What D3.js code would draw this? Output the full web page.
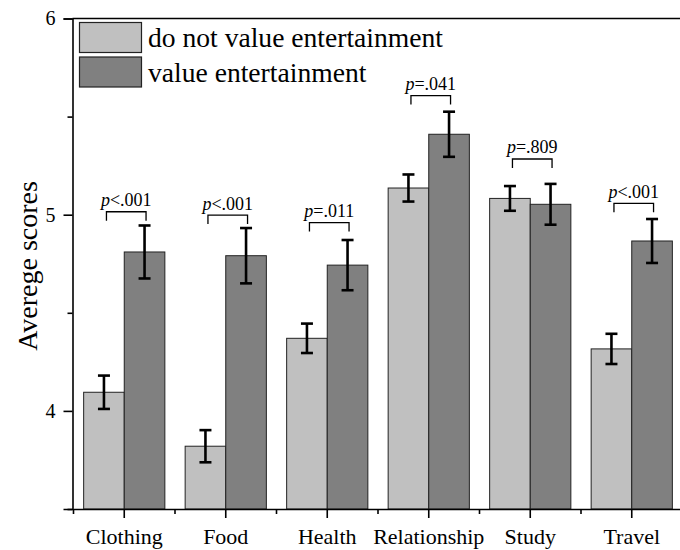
<!DOCTYPE html>
<html>
<head>
<meta charset="utf-8">
<script src="https://cdn.jsdelivr.net/npm/d3@7"></script>
<style>
  html, body { margin: 0; padding: 0; background: #fff; }
  svg { display: block; }
  text { font-family: "Liberation Serif", "Times New Roman", serif; fill: #000; }
</style>
</head>
<body>
<script>
const categories = ["Clothing", "Food", "Health", "Relationship", "Study", "Travel"];
const seriesNames = ["do not value entertainment", "value entertainment"];
const noValue   = [4.095, 3.82, 4.37, 5.136, 5.083, 4.316];
const noValueSE = [0.085, 0.082, 0.075, 0.069, 0.063, 0.077];
const valueEnt   = [4.81, 4.791, 4.743, 5.41, 5.053, 4.866];
const valueEntSE = [0.135, 0.141, 0.128, 0.115, 0.104, 0.112];
const pOps  = ["<", "<", "=", "=", "=", "<"];
const pVals = [".001", ".001", ".011", ".041", ".809", ".001"];
const bracketY = [5.015, 4.998, 4.96, 5.607, 5.284, 5.058];
const yMajorTicks = [4, 5, 6];
const yMinorTicks = [3.5, 4.5, 5.5];
const yTitle = "Averege scores";

const W = 680, H = 550;
const FONT = "Liberation Serif";
const colors = ["#c0c0c0", "#808080"];

const svg = d3.select("body").append("svg").attr("width", W).attr("height", H)
  .attr("font-family", FONT);

const x = d3.scaleBand().domain(categories).range([73.5, 682.5]).padding(0);
const inner = d3.scaleBand().domain([0, 1]).range([0, x.bandwidth() * 0.8]);
const groupOffset = x.bandwidth() * 0.1;
const y = d3.scaleLinear().domain([3.5, 6]).range([509, 18.5]);

const series = [
  categories.map((c, i) => ({ c, s: 0, v: noValue[i], se: noValueSE[i] })),
  categories.map((c, i) => ({ c, s: 1, v: valueEnt[i], se: valueEntSE[i] }))
];
const flat = series.flat();
const barX = d => x(d.c) + groupOffset + inner(d.s);
const barCX = d => barX(d) + inner.bandwidth() / 2;

// bars
svg.append("g").selectAll("rect").data(flat).join("rect")
  .attr("x", barX)
  .attr("y", d => y(d.v))
  .attr("width", inner.bandwidth())
  .attr("height", d => y(3.5) - y(d.v))
  .attr("fill", d => colors[d.s])
  .attr("stroke", "#222")
  .attr("stroke-width", 1);

// error bars
const eb = svg.append("g").attr("stroke", "#000").attr("stroke-width", 2.6);
const capW = 12;
eb.selectAll("line.v").data(flat).join("line").attr("class", "v")
  .attr("x1", barCX).attr("x2", barCX)
  .attr("y1", d => y(d.v + d.se)).attr("y2", d => y(d.v - d.se));
eb.selectAll("line.t").data(flat).join("line").attr("class", "t")
  .attr("x1", d => barCX(d) - capW / 2).attr("x2", d => barCX(d) + capW / 2)
  .attr("y1", d => y(d.v + d.se)).attr("y2", d => y(d.v + d.se));
eb.selectAll("line.b").data(flat).join("line").attr("class", "b")
  .attr("x1", d => barCX(d) - capW / 2).attr("x2", d => barCX(d) + capW / 2)
  .attr("y1", d => y(d.v - d.se)).attr("y2", d => y(d.v - d.se));

// significance brackets
const br = svg.append("g");
categories.forEach((c, i) => {
  const x1 = barCX(series[0][i]) + 2.5;
  const x2 = barCX(series[1][i]) + 1.5;
  const yb = y(bracketY[i]);
  br.append("path")
    .attr("d", `M${x1},${yb + 9}V${yb}H${x2}V${yb + 9}`)
    .attr("fill", "none").attr("stroke", "#000").attr("stroke-width", 1.3);
  const t = br.append("text")
    .attr("x", (x1 + x2) / 2).attr("y", yb - 5.5)
    .attr("text-anchor", "middle").attr("font-size", 18).attr("font-family", FONT);
  t.append("tspan").attr("font-style", "italic").text("p");
  t.append("tspan").text(pOps[i] + pVals[i]);
});

// y axis major
const yAxis = svg.append("g").attr("transform", "translate(72.5,0)")
  .call(d3.axisLeft(y).tickValues(yMajorTicks).tickSize(9).tickPadding(8).tickFormat(d3.format("d")));
yAxis.attr("font-family", FONT);
yAxis.select(".domain").attr("stroke-width", 1.6);
yAxis.selectAll(".tick line").attr("stroke-width", 1.6);
yAxis.selectAll("text").attr("font-size", 20).attr("font-family", FONT);
// y axis minor
svg.append("g").attr("transform", "translate(72.5,0)")
  .call(d3.axisLeft(y).tickValues(yMinorTicks).tickSize(5).tickFormat(""))
  .call(g => g.select(".domain").remove())
  .selectAll(".tick line").attr("stroke-width", 1.6);

// top frame
svg.append("line").attr("x1", 72.5).attr("x2", 682.5)
  .attr("y1", y(6)).attr("y2", y(6)).attr("stroke", "#000").attr("stroke-width", 1.6);

// x axis major
const xAxis = svg.append("g").attr("transform", `translate(0,${y(3.5)})`)
  .call(d3.axisBottom(x).tickSize(9).tickPadding(10).tickSizeOuter(0));
xAxis.attr("font-family", FONT);
xAxis.select(".domain").attr("stroke-width", 1.6);
xAxis.selectAll(".tick line").attr("stroke-width", 1.6);
xAxis.selectAll("text").attr("font-size", 22).attr("font-family", FONT);
// x axis minor ticks at band boundaries
const bounds = categories.map(c => x(c));
svg.append("g").selectAll("line").data(bounds).join("line")
  .attr("x1", d => d).attr("x2", d => d)
  .attr("y1", y(3.5)).attr("y2", y(3.5) + 5)
  .attr("stroke", "#000").attr("stroke-width", 1.6);

// y title
svg.append("text")
  .attr("transform", `translate(37,${266}) rotate(-90)`)
  .attr("text-anchor", "middle").attr("font-size", 28).attr("font-family", FONT)
  .text(yTitle);

// legend
const lg = svg.append("g");
seriesNames.forEach((n, i) => {
  lg.append("rect").attr("x", 79.5).attr("y", 22.5 + i * 34.5)
    .attr("width", 62).attr("height", 30)
    .attr("fill", colors[i]).attr("stroke", "#222").attr("stroke-width", 1.2);
  lg.append("text").attr("x", 148).attr("y", 47 + i * 34.5)
    .attr("font-size", 27.6).attr("font-family", FONT).text(n);
});
</script>
</body>
</html>
